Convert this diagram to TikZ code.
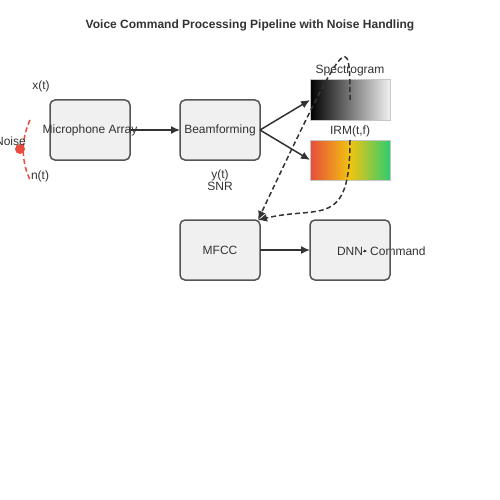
\documentclass[tikz,border=0pt]{standalone}
\usepackage{fontspec}
\setmainfont{Liberation Sans}
\usetikzlibrary{arrows.meta}

\definecolor{boxfill}{HTML}{F0F0F0}
\definecolor{boxline}{HTML}{555555}
\definecolor{ink}{HTML}{333333}
\definecolor{noisered}{HTML}{E74C3C}
\definecolor{irmred}{HTML}{E74C3C}
\definecolor{irmyellow}{HTML}{F1C40F}
\definecolor{irmgreen}{HTML}{2ECC71}
\pgfdeclarehorizontalshading{irmshade}{100bp}{color(0bp)=(irmred); color(25bp)=(irmred); color(50bp)=(irmyellow); color(75bp)=(irmgreen); color(100bp)=(irmgreen)}

\tikzset{
    block/.style={draw=boxline, fill=boxfill, rounded corners=5pt, line width=1.5pt,
        minimum width=80pt, minimum height=60pt, inner sep=0pt, outer sep=0pt},
    lbl/.style={text=ink, inner sep=0pt, font=\fontsize{12}{14}\selectfont},
    flow/.style={draw=ink, line width=1.5pt, -{Latex[length=9pt,width=8pt]}},
    feedback/.style={flow, dash pattern=on 5pt off 3pt},
}

\begin{document}
\begin{tikzpicture}[x=1pt, y=-1pt]
    \useasboundingbox[fill=white] (0,0) rectangle (500,500);

    \node[lbl, font=\bfseries\fontsize{12}{14}\selectfont] (title) at (250,25)
        {Voice Command Processing Pipeline with Noise Handling};

    % noise source
    \draw[noisered, line width=1.5pt, dash pattern=on 5pt off 3pt] (30,120) .. controls (21,140) and (21,160) .. (30,180);
    \node[circle, fill=noisered, minimum size=10pt, inner sep=0pt] (noise) at (20,149) {};
    \node[lbl, anchor=east] (noiselbl) at (26,141) {Noise};
    \node[lbl] (xt) at (41,86) {x(t)};
    \node[lbl] (nt) at (40,176) {n(t)};

    % blocks
    \node[block] (mic) at (90,130) {};
    \node[lbl] (miclbl) at (90,130) {Microphone Array};
    \node[block] (beam) at (220,130) {};
    \node[lbl] (beamlbl) at (220,130) {Beamforming};
    \node[block] (mfcc) at (220,250) {};
    \node[lbl] (mfcclbl) at (220,250) {MFCC};
    \node[block, draw=none] (dnn) at (350,250) {};
    \node[lbl] (dnnlbl) at (350,251) {DNN};
    \node[lbl, anchor=west] (cmd) at (370,251) {Command};
    \draw[boxline, line width=1.5pt, rounded corners=5pt] (dnn.south west) rectangle (dnn.north east);

    \node[lbl] (yt) at (220,175) {y(t)};
    \node[lbl] (snr) at (220,186) {SNR};

    % features
    \node[minimum width=80pt, minimum height=40pt, draw=gray!45, line width=1pt, outer sep=0pt,
        left color=black, right color=gray!12] (spec) at (350,100) {};
    \node[lbl] (speclbl) at (350,71) {Spectrogram};
    \node[minimum width=80pt, minimum height=40pt, draw=gray!45, line width=1pt, outer sep=0pt,
        shading=irmshade] (irm) at (350,160) {};
    \node[lbl] (irmlbl) at (350,131) {IRM(t,f)};

    % connectors
    \draw[flow] (mic.east) -- (beam.west);
    \draw[flow] (beam.east) -- (spec.west);
    \draw[flow] (beam.east) -- (irm.west);
    \draw[flow] (mfcc.east) -- (dnn.west);
    \draw[ink, line width=0.8pt, -{Latex[length=3pt,width=3pt]}] (dnnlbl.east) -- ++(4,0);
    \draw[feedback] (spec.center) .. controls (350,30) and (348,30) .. ([xshift=-2pt]mfcc.north east);
    \draw[feedback] (irm.north) .. controls (350,230) and (320,205) .. ([xshift=-2pt]mfcc.north east);
\end{tikzpicture}
\end{document}
